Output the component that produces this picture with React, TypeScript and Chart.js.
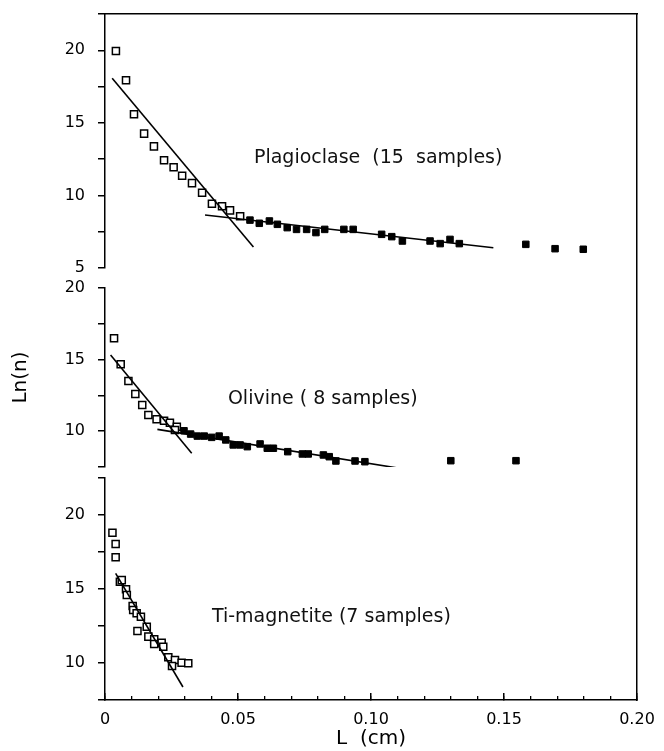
import React, { useEffect, useRef } from 'react';
import { Chart, registerables } from 'chart.js';

Chart.register(...registerables);

// ---------- Plagioclase (top panel) ----------
const plagOpenL = [0.0041, 0.0079, 0.0109, 0.0147, 0.0184, 0.0222, 0.0258, 0.029, 0.0327, 0.0365, 0.0402, 0.044, 0.047, 0.0508];
const plagOpenLn = [19.95, 17.93, 15.59, 14.26, 13.38, 12.42, 11.94, 11.36, 10.85, 10.19, 9.43, 9.25, 8.97, 8.56];
const plagFilledL = [0.0545, 0.058, 0.0618, 0.0648, 0.0685, 0.072, 0.0758, 0.0793, 0.0826, 0.0898, 0.0933, 0.104, 0.1078, 0.1118, 0.1222, 0.126, 0.1297, 0.1332, 0.1582, 0.1692, 0.1798];
const plagFilledLn = [8.3, 8.08, 8.24, 8.01, 7.78, 7.66, 7.66, 7.44, 7.66, 7.66, 7.66, 7.32, 7.16, 6.86, 6.86, 6.68, 6.97, 6.68, 6.63, 6.33, 6.29];
const plagFitSteepL = [0.0027, 0.0558];
const plagFitSteepLn = [18.07, 6.44];
const plagFitFlatL = [0.0376, 0.146];
const plagFitFlatLn = [8.65, 6.4];

// ---------- Olivine (middle panel) ----------
const olivOpenL = [0.0034, 0.0059, 0.0088, 0.0114, 0.014, 0.0163, 0.0194, 0.0222, 0.0244, 0.027, 0.0263];
const olivOpenLn = [16.49, 14.67, 13.51, 12.6, 11.83, 11.13, 10.83, 10.73, 10.59, 10.31, 10.08];
const olivFilledL = [0.0297, 0.0322, 0.0347, 0.0373, 0.0401, 0.0429, 0.0454, 0.0482, 0.0508, 0.0535, 0.0583, 0.061, 0.0633, 0.0687, 0.0742, 0.0764, 0.0821, 0.0843, 0.0868, 0.094, 0.0977, 0.13, 0.1545];
const olivFilledLn = [10.03, 9.8, 9.66, 9.66, 9.57, 9.66, 9.39, 9.04, 9.04, 8.92, 9.11, 8.81, 8.81, 8.57, 8.41, 8.41, 8.34, 8.22, 7.92, 7.92, 7.87, 7.94, 7.94];
const olivFitSteepL = [0.0021, 0.0326];
const olivFitSteepLn = [15.32, 8.46];
const olivFitFlatL = [0.0197, 0.1147];
const olivFitFlatLn = [10.13, 7.29];

// ---------- Ti-magnetite (bottom panel) ----------
const timOpenL = [0.0028, 0.004, 0.004, 0.0056, 0.0063, 0.0079, 0.0082, 0.0104, 0.0106, 0.0119, 0.0135, 0.0122, 0.0157, 0.0163, 0.0185, 0.0185, 0.0213, 0.0219, 0.0238, 0.0263, 0.0288, 0.0313, 0.0252];
const timOpenLn = [18.8, 18.04, 17.14, 15.49, 15.6, 14.98, 14.59, 13.85, 13.58, 13.36, 13.13, 12.16, 12.45, 11.78, 11.6, 11.28, 11.37, 11.1, 10.39, 10.2, 10.02, 9.98, 9.8];
const timFitL = [0.004, 0.0293];
const timFitLn = [16.06, 8.38];

// ---------- panel captions ----------
const captionTexts = ['Plagioclase  (15  samples)', 'Olivine ( 8 samples)', 'Ti-magnetite (7 samples)'];
const captionAxes = ['yT', 'yM', 'yB'];
const captionL = [0.056, 0.0462, 0.0402];
const captionLn = [12.6, 12.25, 13.1];

// ---------- axes ----------
const xMajorStep = 0.05;
const xMinorStep = 0.01;
const xMin = 0;
const xMax = 0.2;
const yStep = 2.5;
const panelRanges = { yT: [5, 22.5], yM: [7.5, 20], yB: [7.5, 22.5] };

const pts = (xs: number[], ys: number[]) => xs.map((x, i) => ({ x, y: ys[i] }));

const FONT = '"DejaVu Sans", "Liberation Sans", sans-serif';

const zeroPad = (s: any) => {
  s.paddingLeft = 0;
  s.paddingRight = 0;
  s.paddingTop = 0;
  s.paddingBottom = 0;
};

const captionPlugin = {
  id: 'captions',
  afterDatasetsDraw(chart: any) {
    const ctx = chart.ctx;
    ctx.save();
    ctx.font = `19px ${FONT}`;
    ctx.fillStyle = '#111';
    ctx.textAlign = 'left';
    ctx.textBaseline = 'middle';
    captionTexts.forEach((t, i) => {
      const xs = chart.scales.x;
      const ys = chart.scales[captionAxes[i]];
      ctx.fillText(t, xs.getPixelForValue(captionL[i]), ys.getPixelForValue(captionLn[i]));
    });
    ctx.restore();
  },
};

const openSq = (data: any[], yAxisID: string) => ({
  data,
  xAxisID: 'x',
  yAxisID,
  showLine: false,
  pointStyle: 'rect',
  pointRadius: 5,
  pointBackgroundColor: '#fff',
  pointBorderColor: '#000',
  pointBorderWidth: 1.5,
});
const filledSq = (data: any[], yAxisID: string) => ({
  data,
  xAxisID: 'x',
  yAxisID,
  showLine: false,
  pointStyle: 'rect',
  pointRadius: 4.6,
  pointBackgroundColor: '#000',
  pointBorderColor: '#000',
  pointBorderWidth: 1,
});
const fitLine = (data: any[], yAxisID: string) => ({
  data,
  xAxisID: 'x',
  yAxisID,
  showLine: true,
  pointRadius: 0,
  borderColor: '#000',
  borderWidth: 1.6,
  fill: false,
});

const yPanel = (id: 'yT' | 'yM' | 'yB', weight: number, stackWeight: number, title?: string) => ({
  type: 'linear',
  position: 'left',
  stack: 'ln',
  stackWeight,
  weight,
  min: panelRanges[id][0],
  max: panelRanges[id][1],
  ticks: {
    stepSize: yStep,
    autoSkip: false,
    includeBounds: false,
    padding: 13,
    color: '#000',
    font: { size: 16, family: FONT },
    callback: (v: number) => (Math.abs(v % 5) < 1e-9 ? String(v) : ''),
  },
  grid: { drawOnChartArea: false, drawTicks: true, tickLength: 7, color: '#000', lineWidth: 1.5 },
  border: { display: true, color: '#000', width: 1.5 },
  title: title
    ? { display: true, text: title, color: '#000', font: { size: 20, family: FONT }, padding: { top: 9, bottom: 0 } }
    : { display: false },
  afterFit: (s: any) => {
    s.width = 105;
    zeroPad(s);
  },
});

const gapAxis = (weight: number, stackWeight: number) => ({
  type: 'linear',
  position: 'left',
  stack: 'ln',
  stackWeight,
  weight,
  ticks: { display: false },
  grid: { display: false },
  border: { display: false },
  afterFit: (s: any) => {
    s.width = 0;
    zeroPad(s);
  },
});

export default function App() {
  const ref = useRef<HTMLCanvasElement>(null);

  useEffect(() => {
    if (!ref.current) return;
    const chart = new Chart(ref.current, {
      type: 'scatter',
      data: {
        datasets: [
          fitLine(pts(plagFitSteepL, plagFitSteepLn), 'yT'),
          fitLine(pts(plagFitFlatL, plagFitFlatLn), 'yT'),
          openSq(pts(plagOpenL, plagOpenLn), 'yT'),
          filledSq(pts(plagFilledL, plagFilledLn), 'yT'),
          fitLine(pts(olivFitSteepL, olivFitSteepLn), 'yM'),
          fitLine(pts(olivFitFlatL, olivFitFlatLn), 'yM'),
          openSq(pts(olivOpenL, olivOpenLn), 'yM'),
          filledSq(pts(olivFilledL, olivFilledLn), 'yM'),
          fitLine(pts(timFitL, timFitLn), 'yB'),
          openSq(pts(timOpenL, timOpenLn), 'yB'),
        ] as any,
      },
      options: {
        responsive: false,
        animation: false,
        devicePixelRatio: 1,
        layout: { padding: { left: 0, right: 27, top: 14, bottom: 0 } },
        plugins: { legend: { display: false }, tooltip: { enabled: false } },
        scales: {
          xMinor: {
            type: 'linear',
            position: 'bottom',
            weight: 0,
            min: xMin,
            max: xMax,
            ticks: { display: false, stepSize: xMinorStep, autoSkip: false },
            grid: { drawOnChartArea: false, drawTicks: true, tickLength: -4, color: '#000', lineWidth: 1.3 },
            border: { display: false },
            afterFit: (s: any) => {
              s.height = 0;
              zeroPad(s);
            },
          },
          x: {
            type: 'linear',
            position: 'bottom',
            weight: 1,
            min: xMin,
            max: xMax,
            ticks: {
              stepSize: xMajorStep,
              autoSkip: false,
              maxRotation: 0,
              padding: 17,
              color: '#000',
              font: { size: 16, family: FONT },
              callback: (v: number) => (v === 0 ? '0' : v.toFixed(2)),
            },
            grid: { drawOnChartArea: false, drawTicks: true, tickLength: -7, color: '#000', lineWidth: 1.5 },
            border: { display: true, color: '#000', width: 1.5 },
            title: { display: true, text: 'L  (cm)', color: '#000', font: { size: 20, family: FONT }, padding: { top: 0, bottom: 0 } },
            afterFit: (s: any) => {
              s.height = 51;
              zeroPad(s);
            },
          },
          xTop: {
            type: 'linear',
            position: 'top',
            min: xMin,
            max: xMax,
            ticks: { display: false },
            grid: { display: false },
            border: { display: true, color: '#000', width: 1.5 },
            afterFit: (s: any) => {
              s.height = 0;
              zeroPad(s);
            },
          },
          yR: {
            type: 'linear',
            position: 'right',
            ticks: { display: false },
            grid: { display: false },
            border: { display: true, color: '#000', width: 1.5 },
            afterFit: (s: any) => {
              s.width = 0;
              zeroPad(s);
            },
          },
          yT: yPanel('yT', 5, 254),
          g1: gapAxis(4, 20),
          yM: yPanel('yM', 3, 179, 'Ln(n)'),
          g2: gapAxis(2, 11),
          yB: yPanel('yB', 1, 222),
        } as any,
      },
      plugins: [captionPlugin],
    });
    return () => chart.destroy();
  }, []);

  return (
    <div style={{ position: 'absolute', left: 0, top: 0, width: 664, height: 751, background: '#fff' }}>
      <canvas ref={ref} width={664} height={751} style={{ display: 'block', width: 664, height: 751 }} />
    </div>
  );
}
